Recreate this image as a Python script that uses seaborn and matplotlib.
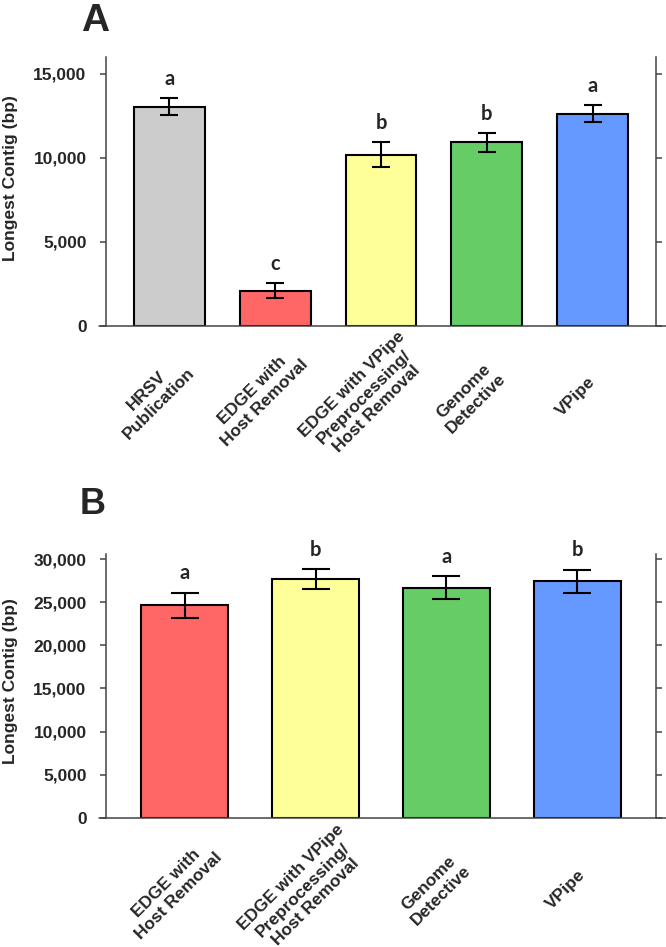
import matplotlib
matplotlib.use("Agg")
import matplotlib.pyplot as plt
import matplotlib.transforms as mtransforms
from matplotlib.ticker import StrMethodFormatter
import seaborn as sns

# panel A data
cats_a = ["HRSV\nPublication", "EDGE with\nHost Removal",
          "EDGE with VPipe\nPreprocessing/\nHost Removal",
          "Genome\nDetective", "VPipe"]
vals_a = [13050, 2100, 10180, 10920, 12630]
errs_a = [500, 450, 740, 550, 510]
sig_a = ["a", "c", "b", "b", "a"]
cols_a = ["#cccccc", "#ff6666", "#ffff99", "#66cc66", "#6699ff"]

# panel B data
cats_b = ["EDGE with\nHost Removal",
          "EDGE with VPipe\nPreprocessing/\nHost Removal",
          "Genome\nDetective", "VPipe"]
vals_b = [24670, 27700, 26700, 27420]
errs_b = [1450, 1150, 1330, 1330]
sig_b = ["a", "b", "a", "b"]
cols_b = ["#ff6666", "#ffff99", "#66cc66", "#6699ff"]

sns.set_style("white")
plt.rcParams["font.family"] = ["Liberation Sans", "DejaVu Sans"]
plt.rcParams["font.weight"] = "bold"

SPINE = "#444444"

fig = plt.figure(figsize=(6.66, 9.47), dpi=100)
ax_a = fig.add_axes([0.1592, 0.6558, 0.8258, 0.2839])
ax_b = fig.add_axes([0.1592, 0.1365, 0.8258, 0.2785])


def draw_panel(ax, cats, vals, errs, sig, cols, ymax, yticks, capsize,
               label_down, label_dx, ylab_y):
    sns.barplot(x=cats, y=vals, hue=cats, palette=cols, legend=False,
                width=0.67, edgecolor="black", linewidth=1.5, ax=ax,
                saturation=1)
    ax.errorbar(range(len(vals)), vals, yerr=errs, fmt="none",
                ecolor="black", elinewidth=1.5, capsize=capsize,
                capthick=1.5, zorder=5)
    for i, (v, e, s) in enumerate(zip(vals, errs, sig)):
        ax.annotate(s, (i, v + e), xytext=(0, 14), textcoords="offset points",
                    ha="center", va="center", fontsize=14.5,
                    fontweight="bold", family=["Lato", "DejaVu Sans"])
    ax.set_xlim(-0.6, len(vals) - 0.4)
    ax.set_ylim(0, ymax)
    ax.set_yticks(yticks)
    ax.yaxis.set_major_formatter(StrMethodFormatter("{x:,.0f}"))
    ax.set_ylabel("Longest Contig (bp)", fontsize=12.5, fontweight="bold")
    ax.yaxis.set_label_coords(-0.160, ylab_y)

    for side in ["top", "bottom"]:
        ax.spines[side].set_visible(False)
    for side in ["left", "right"]:
        ax.spines[side].set_color(SPINE)
        ax.spines[side].set_linewidth(1.1)
    ax.axhline(0, xmin=-0.013, xmax=1.02, color=SPINE, lw=1.1,
               clip_on=False, zorder=6)

    ax.tick_params(axis="y", left=True, right=True, direction="out",
                   length=4.5, width=1.1, color=SPINE, labelsize=12.5,
                   pad=9.5)
    # labels are centred on a point below and left of each bar
    ax.tick_params(axis="x", bottom=False, length=0,
                   pad=label_down * 0.72, labelsize=12.5)
    offset = mtransforms.ScaledTranslation(label_dx / 100, 0,
                                           fig.dpi_scale_trans)
    for lab in ax.get_xticklabels():
        lab.set_rotation(45)
        lab.set_rotation_mode("anchor")
        lab.set_ha("center")
        lab.set_va("center")
        lab.set_multialignment("center")
        lab.set_linespacing(1.2)
        lab.set_fontweight("bold")
        lab.set_transform(lab.get_transform() + offset)
    for lab in ax.get_yticklabels():
        lab.set_fontweight("bold")


draw_panel(ax_a, cats_a, vals_a, errs_a, sig_a, cols_a, 16000,
           [0, 5000, 10000, 15000], 6.5, 71, -17, 0.55)
draw_panel(ax_b, cats_b, vals_b, errs_b, sig_b, cols_b, 30600,
           [0, 5000, 10000, 15000, 20000, 25000, 30000], 10, 72, -12, 0.52)

fig.text(95 / 666, 1 - 21 / 947, "A", fontsize=28, fontweight="bold",
         ha="center", va="center")
fig.text(93 / 666, 1 - 504 / 947, "B", fontsize=26, fontweight="bold",
         ha="center", va="center")

fig.savefig("out.png", dpi=100)
